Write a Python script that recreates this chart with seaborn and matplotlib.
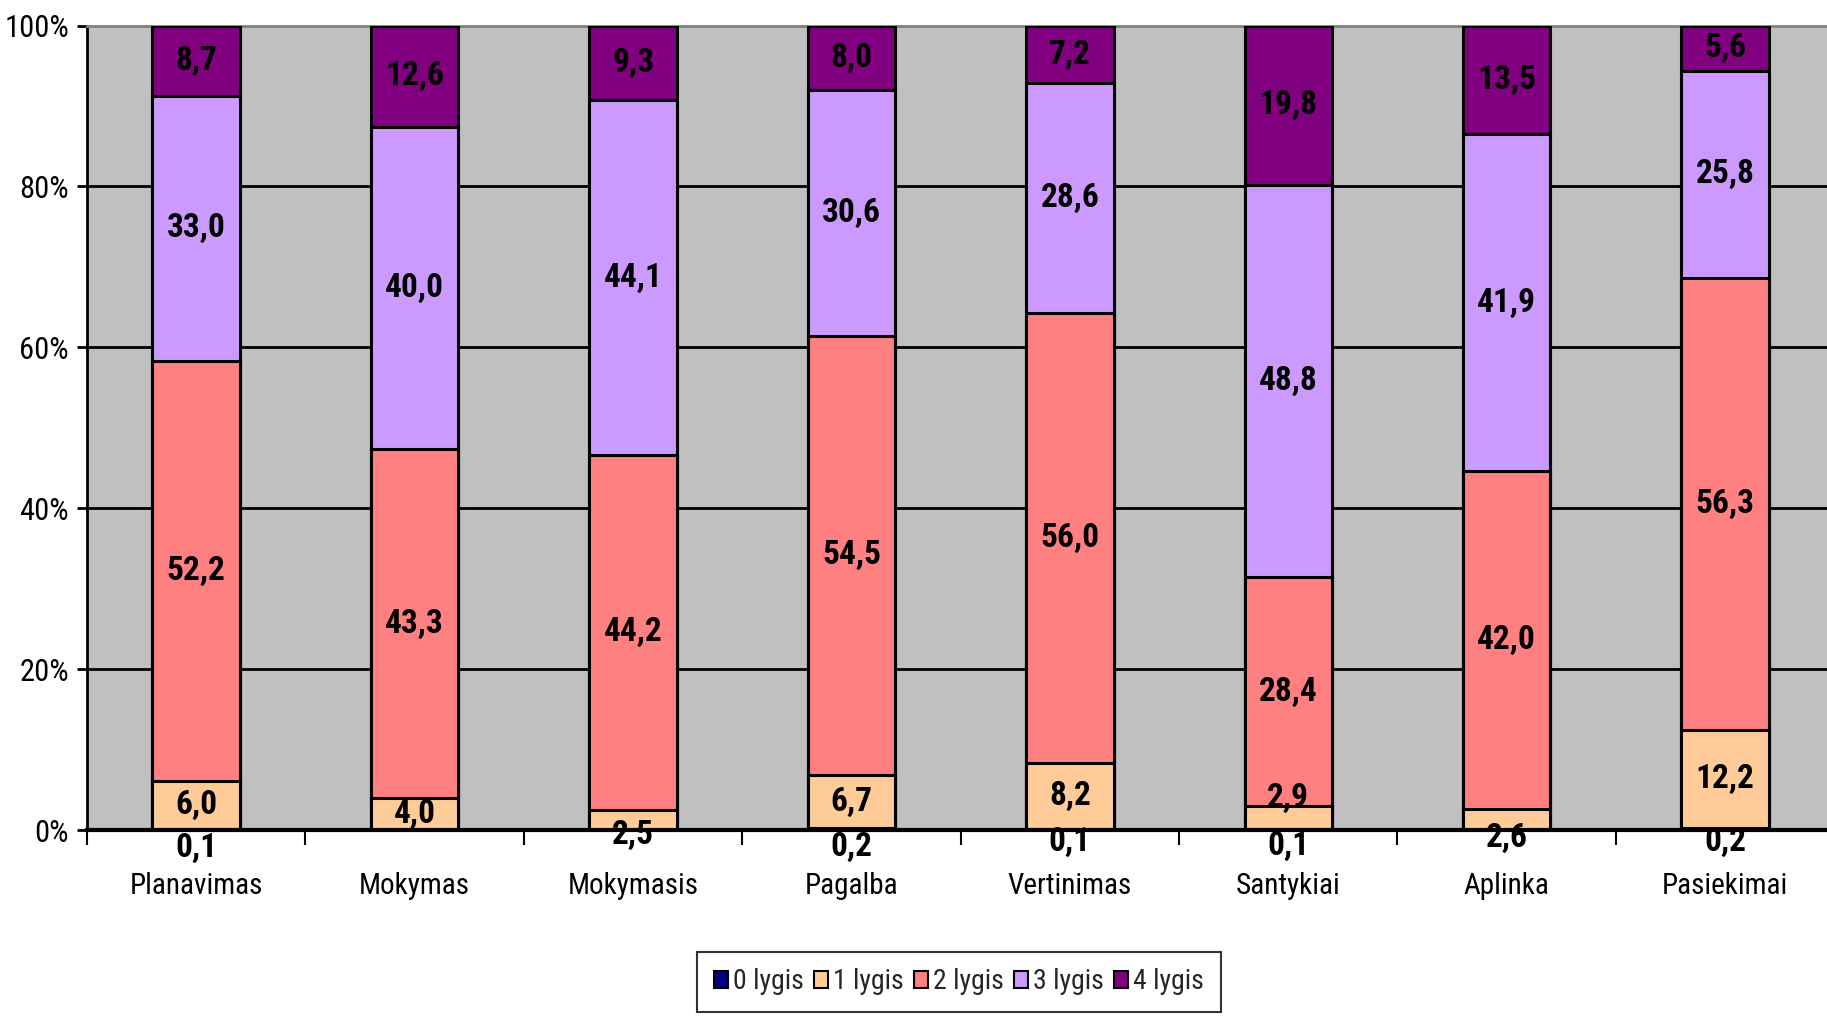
import matplotlib
matplotlib.use("Agg")
import matplotlib.pyplot as plt
from matplotlib import font_manager
from matplotlib.patches import Patch
from matplotlib.ticker import FixedLocator, FuncFormatter
import numpy as np
import pandas as pd
import seaborn as sns

categories = ["Planavimas", "Mokymas", "Mokymasis", "Pagalba",
              "Vertinimas", "Santykiai", "Aplinka", "Pasiekimai"]
levels = ["0 lygis", "1 lygis", "2 lygis", "3 lygis", "4 lygis"]
lygis0 = [0.1, 0.0, 0.0, 0.2, 0.1, 0.1, 0.0, 0.2]
lygis1 = [6.0, 4.0, 2.5, 6.7, 8.2, 2.9, 2.6, 12.2]
lygis2 = [52.2, 43.3, 44.2, 54.5, 56.0, 28.4, 42.0, 56.3]
lygis3 = [33.0, 40.0, 44.1, 30.6, 28.6, 48.8, 41.9, 25.8]
lygis4 = [8.7, 12.6, 9.3, 8.0, 7.2, 19.8, 13.5, 5.6]
colors = ["#000080", "#FFCC99", "#FF8080", "#CC99FF", "#800080"]
yticks = [0, 20, 40, 60, 80, 100]

sns.set_theme(style="white")

# pick a condensed / narrow sans face if one is installed
entries = font_manager.fontManager.ttflist
cond = [f for f in entries
        if ("Narrow" in f.name or "Condensed" in f.name
            or str(f.stretch) in ("condensed", "semi-condensed",
                                  "extra-condensed", "ultra-condensed"))]
pref = ["Liberation Sans Narrow", "Roboto Condensed", "Open Sans Condensed",
        "Noto Sans", "DejaVu Sans", "Open Sans", "Roboto"]
chosen = None
for p in pref:
    for f in cond:
        if f.name == p:
            chosen = f
            break
    if chosen:
        break
if chosen is None and cond:
    chosen = cond[0]
if chosen is not None:
    plt.rcParams["font.family"] = [chosen.name, "DejaVu Sans"]
    if str(chosen.stretch) not in ("normal", "500"):
        plt.rcParams["font.stretch"] = chosen.stretch
else:
    plt.rcParams["font.family"] = ["Liberation Sans", "DejaVu Sans"]

values = np.array([lygis0, lygis1, lygis2, lygis3, lygis4])
totals = values.sum(axis=0)
pct = values / totals * 100.0
cum = np.cumsum(pct, axis=0)

fig = plt.figure(figsize=(18.27, 10.21), dpi=100)
ax = fig.add_axes([0.0476, 0.187, 1.004 - 0.0476, 0.975 - 0.187])
ax.set_facecolor("#C0C0C0")

for li in range(len(levels) - 1, -1, -1):
    df = pd.DataFrame({"cat": categories, "val": cum[li]})
    sns.barplot(data=df, x="cat", y="val", order=categories, color=colors[li],
                saturation=1, width=0.4, edgecolor="black", linewidth=2.2,
                ax=ax, zorder=3, errorbar=None)

nudge = {(0, 0): -13, (3, 0): -13, (4, 0): -9, (5, 0): -12, (7, 0): -9,
         (2, 1): -11, (6, 1): -13, (5, 1): 14}
for li in range(len(levels)):
    for ci in range(len(categories)):
        v = values[li, ci]
        if v <= 0:
            continue
        bottom = cum[li - 1, ci] if li > 0 else 0.0
        yc = bottom + pct[li, ci] / 2
        dy = nudge.get((ci, li), 0)
        ax.annotate(f"{v:.1f}".replace(".", ","), (ci, yc), xytext=(0, dy),
                    textcoords="offset points", ha="center", va="center",
                    fontsize=24, fontweight="bold", color="black", zorder=6,
                    annotation_clip=False)

ax.set_xlim(-0.5, len(categories) - 0.5)
ax.set_ylim(0, 100)
ax.set_xlabel("")
ax.set_ylabel("")

ax.yaxis.set_major_locator(FixedLocator(yticks))
ax.yaxis.set_major_formatter(FuncFormatter(lambda v, p: f"{int(v)}%"))
ax.tick_params(axis="y", which="major", direction="out", length=7, width=2,
               color="black", labelsize=22, pad=6, left=True)
ax.set_xticks(range(len(categories)))
ax.set_xticklabels(categories)
ax.xaxis.set_minor_locator(FixedLocator(np.arange(-0.5, len(categories), 1.0)))
ax.tick_params(axis="x", which="major", length=0, labelsize=21, pad=30)
ax.tick_params(axis="x", which="minor", direction="out", length=11, width=1.5,
               color="black", bottom=True)
for lab in ax.get_xticklabels() + ax.get_yticklabels():
    lab.set_color("black")

ax.grid(False)
for y in yticks[1:-1]:
    ax.axhline(y, color="black", linewidth=2, zorder=1)

ax.spines["left"].set_color("black")
ax.spines["left"].set_linewidth(2)
ax.spines["bottom"].set_color("black")
ax.spines["bottom"].set_linewidth(3)
ax.spines["bottom"].set_zorder(5)
ax.spines["top"].set_color("#808080")
ax.spines["top"].set_linewidth(2)
ax.spines["right"].set_visible(False)

handles = [Patch(facecolor=c, edgecolor="black", linewidth=1.5) for c in colors]
leg = fig.legend(handles, levels, loc="upper center", bbox_to_anchor=(0.525, 0.068),
                 ncol=5, fontsize=20, frameon=True, fancybox=False,
                 edgecolor="black", handlelength=0.5, handleheight=0.6,
                 handletextpad=0.2, columnspacing=0.35, borderpad=0.6,
                 borderaxespad=0)
leg.get_frame().set_linewidth(1.5)

fig.savefig("out.png", dpi=100, facecolor="white")
